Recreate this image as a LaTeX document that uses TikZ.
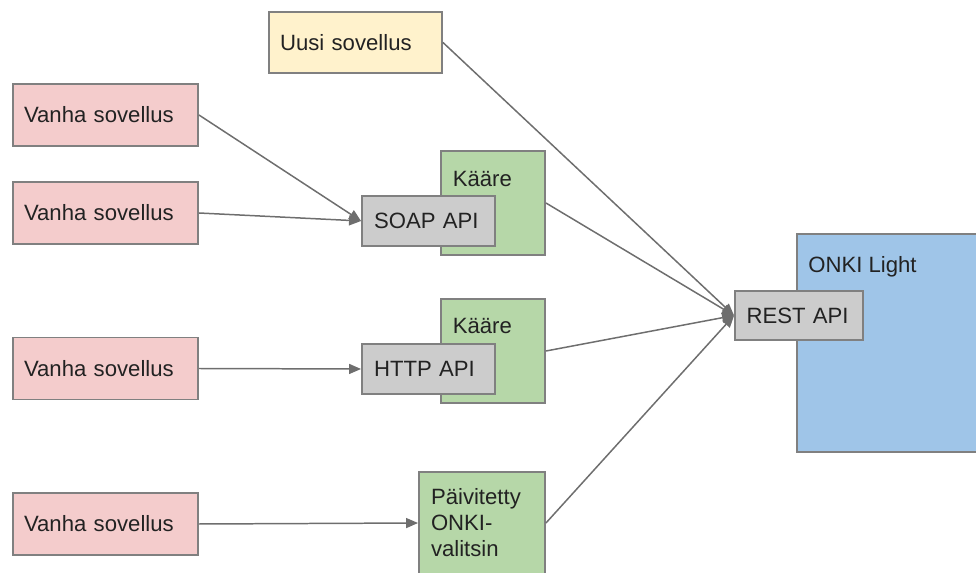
\documentclass[tikz,border=0pt]{standalone}
\usepackage{fontspec}
\setmainfont{Liberation Sans}
\usetikzlibrary{arrows.meta}
\definecolor{edge}{HTML}{808080}
\definecolor{wire}{HTML}{6E6E6E}
\definecolor{txt}{HTML}{222222}
\definecolor{vanha}{HTML}{F4CCCC}
\definecolor{uusi}{HTML}{FFF2CC}
\definecolor{kaare}{HTML}{B6D7A8}
\definecolor{api}{HTML}{CCCCCC}
\definecolor{onki}{HTML}{9FC5E8}
\begin{document}
\begin{tikzpicture}[x=0.02cm,y=-0.02cm,
  box/.style={rectangle,draw=edge,line width=1.1pt,inner ysep=0pt,inner xsep=0.22cm,align=left,text=txt,font=\fontsize{12.6}{14.8}\selectfont},
  app/.style={box,fill=vanha,text width=3.26cm,minimum height=1.24cm},
  newapp/.style={box,fill=uusi,text width=3.02cm,minimum height=1.22cm},
  wrap/.style={box,fill=kaare,minimum width=2.08cm,minimum height=2.08cm},
  api/.style={box,fill=api,inner xsep=0.24cm,text width=2.18cm,minimum height=1cm},
  lbl/.style={anchor=west,inner sep=0pt,text=txt,font=\fontsize{12.6}{14.8}\selectfont},
  conn/.style={draw=wire,line width=0.85pt,-{Triangle[length=0.24cm,width=0.2cm]}},
  line/.style={draw=wire,line width=0.85pt}]
\useasboundingbox (0,0) rectangle (976,573);
\clip (0,0) rectangle (976,573);
\node[newapp] (uusi) at (355.5,42.5) {Uusi sovellus};
\node[app] (v1) at (105.5,115) {Vanha sovellus};
\node[app] (v2) at (105.5,213) {Vanha sovellus};
\node[app] (v3) at (105.5,368.5) {Vanha sovellus};
\node[app] (v4) at (105.5,524) {Vanha sovellus};
\node[wrap] (k1) at (493,203) {};
\node[lbl] (k1t) at (452.5,179) {Kääre};
\node[api] (soap) at (428.5,221) {SOAP API};
\node[wrap] (k2) at (493,351) {};
\node[lbl] (k2t) at (452.5,326) {Kääre};
\node[api] (http) at (428.5,369) {HTTP API};
\node[box,fill=kaare,inner xsep=0.24cm,text width=2.04cm,minimum height=2.04cm] (paiv) at (482,523) {Päivitetty\\ONKI-\\valitsin};
\node[box,fill=onki,minimum width=4.06cm,minimum height=4.36cm] (onki) at (898.5,343) {};
\node[lbl] (onkit) at (808,267) {ONKI Light};
\node[api,inner xsep=0.23cm,text width=2.1cm,minimum height=0.98cm] (rest) at (799,315.5) {REST API};
\draw[conn] (v1.east) -- (soap.west);
\draw[conn] (v2.east) -- (soap.west);
\draw[conn] (v3.east) -- (http.west);
\draw[conn] (v4.east) -- (paiv.west);
\draw[conn] (uusi.east) -- (rest.west);
\draw[conn] (k1.east) -- (rest.west);
\draw[conn] (k2.east) -- (rest.west);
\draw[conn] (paiv.east) -- (rest.west);
\end{tikzpicture}
\end{document}
